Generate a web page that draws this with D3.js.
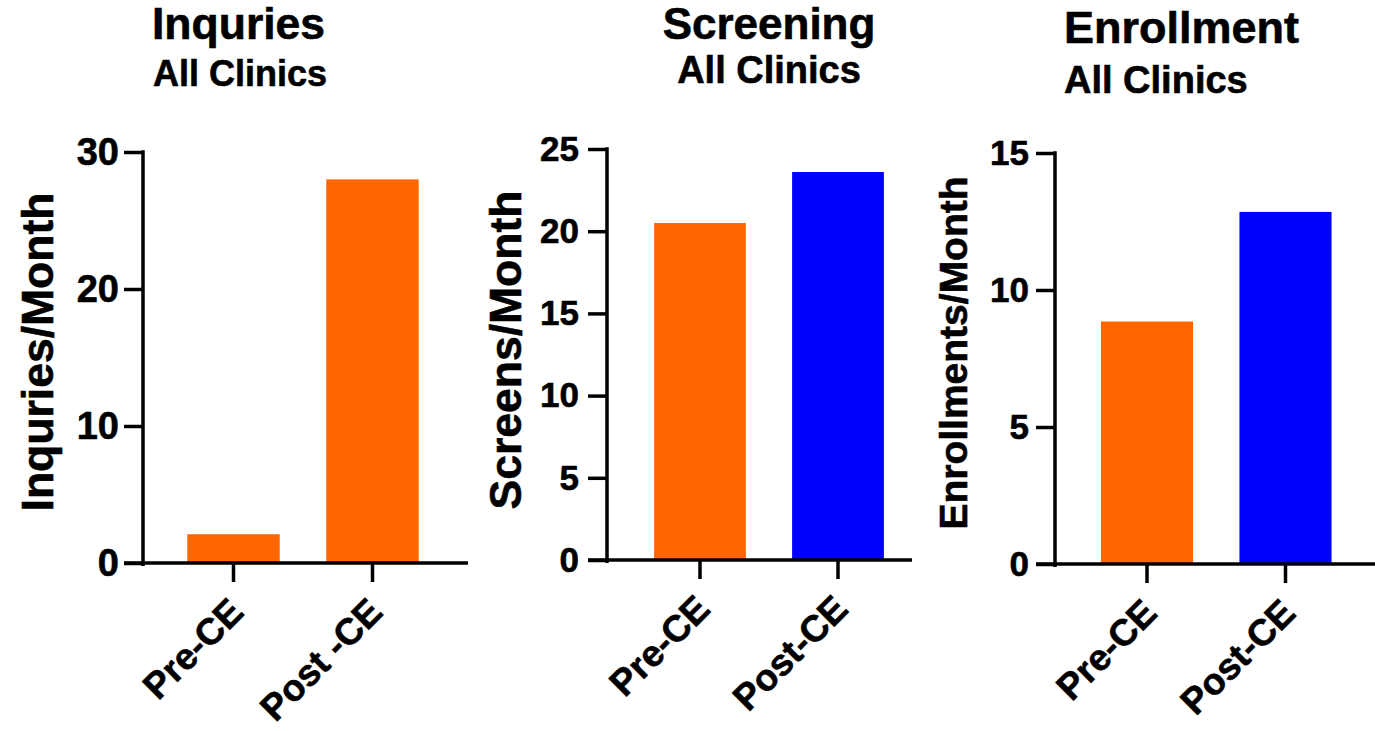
<!DOCTYPE html>
<html>
<head>
<meta charset="utf-8">
<script src="https://cdn.jsdelivr.net/npm/d3@7"></script>
<style>
  html, body { margin: 0; padding: 0; background: #fff; }
  svg { display: block; font-family: "Liberation Sans", Arial, sans-serif; font-weight: bold; }
  text { stroke: #000; stroke-width: 0.6px; }
</style>
</head>
<body>
<svg id="chart" width="1375" height="731"></svg>
<script>
// ---- Data ----
const titles = ["Inquries", "Screening", "Enrollment"];
const subtitles = ["All Clinics", "All Clinics", "All Clinics"];
const yLabels = ["Inquries/Month", "Screens/Month", "Enrollments/Month"];
const categoriesInquiries = ["Pre-CE", "Post -CE"];
const categoriesScreening = ["Pre-CE", "Post-CE"];
const categoriesEnrollment = ["Pre-CE", "Post-CE"];
const inquiries = [2.1, 28.0];
const screens = [20.5, 23.6];
const enrollments = [8.85, 12.85];
const ticksInquiries = [0, 10, 20, 30];
const ticksScreening = [0, 5, 10, 15, 20, 25];
const ticksEnrollment = [0, 5, 10, 15];
const colorsInquiries = ["#FF6600", "#FF6600"];
const colorsScreening = ["#FF6600", "#0000FF"];
const colorsEnrollment = ["#FF6600", "#0000FF"];

// ---- Layout ----
const panels = [
  { cats: categoriesInquiries, vals: inquiries, ticks: ticksInquiries, colors: colorsInquiries,
    title: titles[0], sub: subtitles[0], ylab: yLabels[0],
    axisX: 143, yTop: 152, y0: 563, xr: [164, 442], xEnd: 468, tickFont: 38,
    tickPad: 5, tTitle: { x: 152, y: 39, size: 44.5, anchor: "start" }, tSub: { x: 153, y: 86, size: 36, anchor: "start" },
    yl: { x: 53, y: 352, size: 44.5 } },
  { cats: categoriesScreening, vals: screens, ticks: ticksScreening, colors: colorsScreening,
    title: titles[1], sub: subtitles[1], ylab: yLabels[1],
    axisX: 607, yTop: 149, y0: 560, xr: [631, 907], xEnd: 912, tickFont: 35,
    tickPad: 9, tTitle: { x: 769, y: 39, size: 44, anchor: "middle" }, tSub: { x: 769, y: 83, size: 38, anchor: "middle" },
    yl: { x: 521, y: 350, size: 44.5 } },
  { cats: categoriesEnrollment, vals: enrollments, ticks: ticksEnrollment, colors: colorsEnrollment,
    title: titles[2], sub: subtitles[2], ylab: yLabels[2],
    axisX: 1055, yTop: 153, y0: 564, xr: [1077.75, 1354.75], xEnd: 1375, tickFont: 35,
    tickPad: 7, tTitle: { x: 1064, y: 43, size: 45, anchor: "start" }, tSub: { x: 1064, y: 93, size: 38, anchor: "start" },
    yl: { x: 967, y: 353, size: 39 } }
];

const svg = d3.select("#chart");
const SW = 3.5, TICK = 19;

panels.forEach(p => {
  const g = svg.append("g");
  const y = d3.scaleLinear().domain([0, d3.max(p.ticks)]).range([p.y0, p.yTop]);
  const x = d3.scaleBand().domain(p.cats).range(p.xr).paddingInner(0.335).paddingOuter(0.1675);

  // bars
  g.selectAll("rect.bar").data(p.vals).join("rect")
    .attr("class", "bar")
    .attr("x", (d, i) => x(p.cats[i]))
    .attr("width", x.bandwidth())
    .attr("y", d => y(d))
    .attr("height", d => y(0) - y(d))
    .attr("fill", (d, i) => p.colors[i]);

  // y axis
  const ya = g.append("g").attr("transform", `translate(${p.axisX},0)`)
    .call(d3.axisLeft(y).tickValues(p.ticks).tickSize(TICK).tickSizeOuter(0).tickPadding(p.tickPad).tickFormat(d3.format("d")));
  ya.select(".domain").remove();
  ya.selectAll(".tick line").attr("stroke", "#000").attr("stroke-width", SW);
  ya.selectAll(".tick text").attr("font-size", p.tickFont).attr("font-weight", "bold")
    .attr("font-family", "'Liberation Sans', Arial, sans-serif").attr("fill", "#000");
  g.append("line").attr("x1", p.axisX).attr("x2", p.axisX)
    .attr("y1", p.yTop - SW / 2).attr("y2", p.y0 + 3)
    .attr("stroke", "#000").attr("stroke-width", SW);

  // x axis
  g.append("line").attr("x1", p.axisX - TICK).attr("x2", p.xEnd)
    .attr("y1", p.y0).attr("y2", p.y0)
    .attr("stroke", "#000").attr("stroke-width", SW);
  const xa = g.append("g").attr("transform", `translate(0,${p.y0})`)
    .call(d3.axisBottom(x).tickSize(TICK).tickSizeOuter(0).tickPadding(0));
  xa.select(".domain").remove();
  xa.selectAll(".tick line").attr("stroke", "#000").attr("stroke-width", SW);
  xa.selectAll(".tick text")
    .attr("font-size", 37).attr("font-weight", "bold")
    .attr("font-family", "'Liberation Sans', Arial, sans-serif").attr("fill", "#000")
    .attr("text-anchor", "end").attr("dy", 0).attr("y", 0)
    .attr("transform", "translate(12,51) rotate(-45)");

  // titles
  g.append("text").attr("x", p.tTitle.x).attr("y", p.tTitle.y).attr("text-anchor", p.tTitle.anchor)
    .attr("font-size", p.tTitle.size).text(p.title);
  g.append("text").attr("x", p.tSub.x).attr("y", p.tSub.y).attr("text-anchor", p.tSub.anchor)
    .attr("font-size", p.tSub.size).text(p.sub);

  // y label
  g.append("text").attr("text-anchor", "middle")
    .attr("transform", `translate(${p.yl.x},${p.yl.y}) rotate(-90)`)
    .attr("font-size", p.yl.size).text(p.ylab);
});
</script>
</body>
</html>
